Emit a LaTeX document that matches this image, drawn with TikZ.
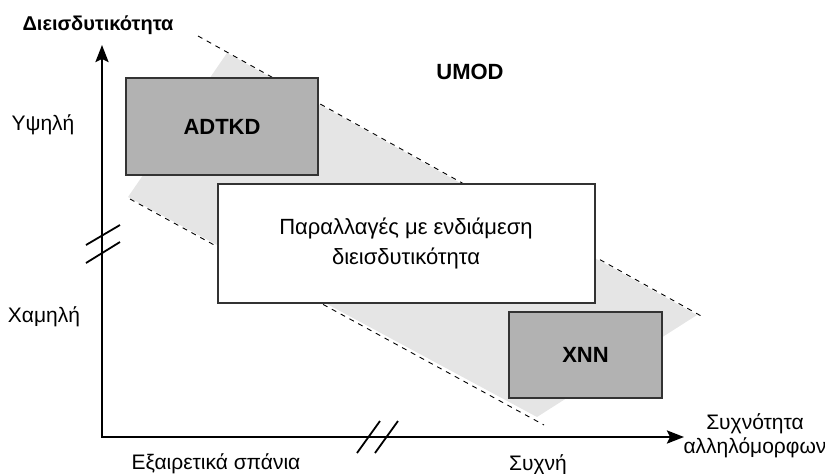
\documentclass[tikz,border=0pt]{standalone}
\usepackage{fontspec}
\setmainfont{Liberation Sans}
\usetikzlibrary{arrows.meta}
\tikzset{
    lbl/.style = {font=\fontsize{21}{24}\selectfont, inner sep=0pt},
    boldlbl/.style = {font=\fontsize{22}{26}\selectfont\bfseries, inner sep=0pt},
    axis/.style = {line width=2.5pt, {Stealth[length=17pt,width=13pt,inset=3pt]}-{Stealth[length=17pt,width=13pt,inset=3pt]}},
    breakmark/.style = {line width=1.8pt},
    band/.style = {fill=black!10, draw=none},
    bandedge/.style = {line width=0.9pt, dash pattern=on 5pt off 5pt},
    darkbox/.style = {rectangle, draw=black!80, line width=1.3pt, fill=black!30, inner sep=0pt},
    lightbox/.style = {rectangle, draw=black!80, line width=1.3pt, fill=white, inner sep=0pt, align=center}}
\begin{document}
\begin{tikzpicture}[x=1pt,y=-1pt]
        \useasboundingbox (0,0) rectangle (825,474);
        % band of intermediate cases
        \fill[band] (227,53) -- (697,315) -- (537,417) -- (128,197) -- cycle;
        \coordinate (up0) at (198,36);
        \coordinate (up1) at (703,317);
        \coordinate (lo0) at (130,199);
        \coordinate (lo1) at (544,425);
        \draw[bandedge] (up0) -- (up1) (lo0) -- (lo1);
        % axes
        \coordinate (O) at (102,437);
        \coordinate (Ytop) at (102,45);
        \coordinate (Xend) at (684,437);
        \draw[axis] (Ytop) -- (O) -- (Xend);
        \draw[breakmark] (86,245) -- (120,225) (86,263) -- (120,242);
        \draw[breakmark] (357,453) -- (380,421) (375,453) -- (398,421);
        % boxes
        \node[darkbox, minimum width=192pt, minimum height=97pt] (ADTKD) at (222,126.5) {};
        \node[lightbox, minimum width=377pt, minimum height=119pt] (VAR) at (406.5,243.5) {};
        \node[darkbox, minimum width=153pt, minimum height=86pt] (XNN) at (585.5,355) {};
        \node[boldlbl] (ADTKDtxt) at (ADTKD) {ADTKD};
        \node[boldlbl] (XNNtxt) at (XNN) {XNN};
        \node[lbl, font=\fontsize{22}{30}\selectfont, align=center] (VARtxt) at (406,243) {Παραλλαγές με ενδιάμεση\\διεισδυτικότητα};
        \node[boldlbl] (UMOD) at (470,72) {UMOD};
        % axis labels
        \node[boldlbl, font=\fontsize{20}{24}\selectfont\bfseries] (ylab) at (98,25) {Διεισδυτικότητα};
        \node[lbl] (high) at (43,125) {Υψηλή};
        \node[lbl] (low) at (44,317) {Χαμηλή};
        \node[lbl] (rare) at (216,464) {Εξαιρετικά σπάνια};
        \node[lbl] (freq) at (538,465) {Συχνή};
        \node[lbl, align=center] (xlab) at (755,436) {Συχνότητα\\αλληλόμορφων};
    \end{tikzpicture}
\end{document}
